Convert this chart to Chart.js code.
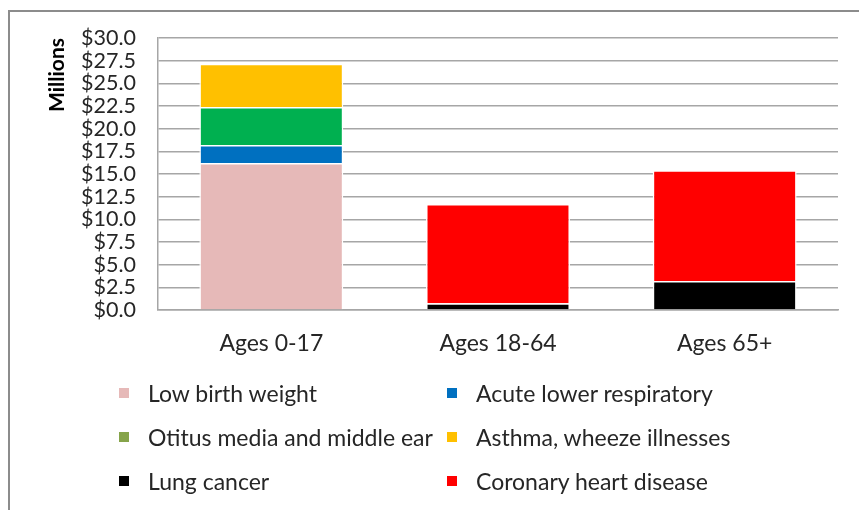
<!DOCTYPE html>
<html>
<head>
<meta charset="utf-8">
<script src="https://cdn.jsdelivr.net/npm/chart.js@4"></script>
<style>
  html, body { margin: 0; padding: 0; background: #fff; }
  #wrap { position: relative; width: 859px; height: 510px; overflow: hidden; }
  #frame { position: absolute; left: 8px; top: 10px; width: 900px; height: 600px; border: 2px solid #8c8c8c; box-sizing: border-box; }
  canvas { position: absolute; left: 0; top: 0; }
  #legend { position: absolute; left: 119px; top: 378px; display: grid; grid-template-columns: 328px 360px; row-gap: 14px;
            font-family: Lato, sans-serif; font-size: 23px; color: #262626; }
  .item { display: flex; align-items: center; height: 30px; white-space: nowrap; }
  .sw { width: 10px; height: 10px; margin-right: 19px; flex: none; }
</style>
</head>
<body>
<div id="wrap">
  <div id="frame"></div>
  <canvas id="chart" width="859" height="510"></canvas>
  <div id="legend"></div>
</div>
<script>
const categories = ['Ages 0-17', 'Ages 18-64', 'Ages 65+'];
const seriesNames = ['Low birth weight', 'Acute lower respiratory', 'Otitus media and middle ear',
                     'Asthma, wheeze illnesses', 'Lung cancer', 'Coronary heart disease'];
const lowBirthWeight = [16.2, 0, 0];
const acuteRespiratory = [2.0, 0, 0];
const otitusMedia = [4.2, 0, 0];
const asthma = [4.75, 0, 0];
const lungCancer = [0, 0.75, 3.2];
const coronaryHeart = [0, 10.95, 12.2];
const yTicks = [0, 2.5, 5, 7.5, 10, 12.5, 15, 17.5, 20, 22.5, 25, 27.5, 30];

const barColors = ['#E6B9B8', '#0070C0', '#00B050', '#FFC000', '#000000', '#FF0000'];
const legendColors = ['#E6B9B8', '#0070C0', '#86A44A', '#FFC000', '#000000', '#FF0000'];
const seriesData = [lowBirthWeight, acuteRespiratory, otitusMedia, asthma, lungCancer, coronaryHeart];

const datasets = seriesNames.map((name, i) => ({
    label: name,
    data: seriesData[i],
    backgroundColor: barColors[i],
    borderColor: '#ffffff',
    borderWidth: 1.5,
    barPercentage: 0.635,
    categoryPercentage: 1
}));

new Chart(document.getElementById('chart'), {
    type: 'bar',
    data: { labels: categories, datasets: datasets },
    options: {
        responsive: false,
        animation: false,
        layout: { padding: { top: 38, right: 21, bottom: 150, left: 0 } },
        plugins: { legend: { display: false }, tooltip: { enabled: false } },
        scales: {
            x: {
                stacked: true,
                grid: { display: false, drawTicks: false },
                border: { color: '#a6a6a6', width: 1.5 },
                ticks: { padding: 20, color: '#262626', font: { family: 'Lato', size: 23 } },
                afterFit: s => { s.height = 50; }
            },
            y: {
                stacked: true,
                min: 0,
                max: 30,
                afterBuildTicks: s => { s.ticks = yTicks.map(v => ({ value: v })); },
                grid: { color: '#a6a6a6', lineWidth: 1.5, drawTicks: false },
                border: { color: '#a6a6a6', width: 1.5 },
                ticks: {
                    padding: 22,
                    autoSkip: false,
                    color: '#262626',
                    font: { family: 'Lato', size: 21.5, lineHeight: 1 },
                    callback: v => '$' + Number(v).toFixed(1)
                },
                title: {
                    display: true,
                    text: 'Millions',
                    align: 'end',
                    color: '#000',
                    font: { family: 'Lato', size: 21, weight: 'bold' },
                    padding: { top: 45, bottom: 0 }
                },
                afterFit: s => { s.width = 158; }
            }
        }
    }
});

const legend = document.getElementById('legend');
seriesNames.forEach((name, i) => {
    const item = document.createElement('div');
    item.className = 'item';
    item.innerHTML = '<span class="sw" style="background:' + legendColors[i] + '"></span>' + name;
    legend.appendChild(item);
});
</script>
</body>
</html>
